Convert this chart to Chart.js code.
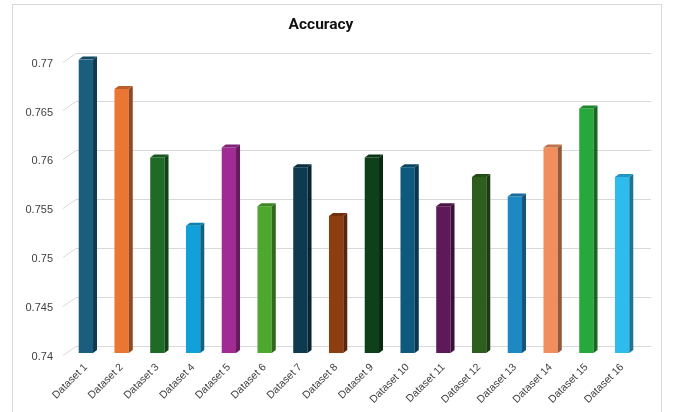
<!DOCTYPE html>
<html>
<head>
<meta charset="utf-8">
<script src="https://cdn.jsdelivr.net/npm/chart.js@4"></script>
<style>
  html, body { margin: 0; padding: 0; background: #fff; }
  #wrap { position: relative; width: 675px; height: 412px; }
  #frame { position: absolute; left: 12px; top: 4px; width: 650px; height: 420px; border: 1px solid #d9d9d9; box-sizing: border-box; pointer-events: none; }
</style>
</head>
<body>
<div id="wrap">
  <canvas id="chart" width="675" height="412"></canvas>
  <div id="frame"></div>
</div>
<script>
const categories = ['Dataset 1', 'Dataset 2', 'Dataset 3', 'Dataset 4', 'Dataset 5', 'Dataset 6', 'Dataset 7', 'Dataset 8',
  'Dataset 9', 'Dataset 10', 'Dataset 11', 'Dataset 12', 'Dataset 13', 'Dataset 14', 'Dataset 15', 'Dataset 16'];
const accuracy = [0.770, 0.767, 0.760, 0.753, 0.761, 0.755, 0.759, 0.754,
  0.760, 0.759, 0.755, 0.758, 0.756, 0.761, 0.765, 0.758];
const barColors = ['#1a5d7d', '#eb7634', '#1d6b26', '#12a0d8', '#a02b93', '#4ea72e', '#0d3a4e', '#8e3d10',
  '#0f401a', '#0e5a7d', '#5e1a58', '#2e5e1e', '#1e88c2', '#f08e5e', '#27a83a', '#2ebcee'];
const yTicks = [0.74, 0.745, 0.75, 0.755, 0.76, 0.765, 0.77];

// darken a hex colour
function shade(hex, f) {
  const n = parseInt(hex.slice(1), 16);
  const r = Math.round(((n >> 16) & 255) * f);
  const g = Math.round(((n >> 8) & 255) * f);
  const b = Math.round((n & 255) * f);
  return `rgb(${r},${g},${b})`;
}

// back wall grid with the little diagonal at the left
const wallGrid = {
  id: 'wallGrid',
  beforeDatasetsDraw(chart) {
    const { ctx, chartArea } = chart;
    const y = chart.scales.y;
    ctx.save();
    ctx.strokeStyle = '#d9d9d9';
    ctx.lineWidth = 1;
    yTicks.forEach(v => {
      const py = Math.round(y.getPixelForValue(v)) + 2.5;
      ctx.beginPath();
      ctx.moveTo(chartArea.left - 5, py);
      ctx.lineTo(chartArea.left + 8, py - 9);
      ctx.lineTo(chartArea.right + 11, py - 9);
      ctx.stroke();
    });
    ctx.restore();
  }
};

// side and top faces of each bar
const bars3d = {
  id: 'bars3d',
  afterDatasetsDraw(chart) {
    const { ctx, chartArea } = chart;
    const dx = 4, dy = 3;
    chart.getDatasetMeta(0).data.forEach((bar, i) => {
      const { x, y, base, width } = bar.getProps(['x', 'y', 'base', 'width'], true);
      const b = Math.min(base, chartArea.bottom);
      const l = x - width / 2, r = x + width / 2;
      ctx.save();
      ctx.fillStyle = shade(barColors[i], 0.62);
      ctx.beginPath();
      ctx.moveTo(r, y);
      ctx.lineTo(r + dx, y - dy);
      ctx.lineTo(r + dx, b - dy);
      ctx.lineTo(r, b);
      ctx.closePath();
      ctx.fill();
      ctx.fillStyle = shade(barColors[i], 0.8);
      ctx.beginPath();
      ctx.moveTo(l, y);
      ctx.lineTo(l + dx, y - dy);
      ctx.lineTo(r + dx, y - dy);
      ctx.lineTo(r, y);
      ctx.closePath();
      ctx.fill();
      ctx.restore();
    });
  }
};

new Chart(document.getElementById('chart'), {
  type: 'bar',
  data: {
    labels: categories,
    datasets: [{
      label: 'Accuracy',
      data: accuracy,
      base: 0.74,
      backgroundColor: barColors,
      borderWidth: 0,
      barPercentage: 0.4,
      categoryPercentage: 1
    }]
  },
  options: {
    responsive: false,
    animation: false,
    layout: { padding: { left: 2, right: 35, top: 0, bottom: 0 } },
    plugins: {
      legend: { display: false },
      tooltip: { enabled: false },
      title: {
        display: true,
        text: 'Accuracy',
        color: '#111',
        font: { family: 'Roboto', size: 15.5, weight: 'bold' },
        padding: { top: 16, bottom: 25 }
      }
    },
    scales: {
      x: {
        grid: { display: false, drawTicks: false },
        border: { display: false },
        ticks: {
          color: '#404040',
          font: { family: 'Liberation Sans', size: 10.5 },
          maxRotation: 45,
          minRotation: 45,
          padding: 8
        },
        afterFit(scale) { scale.height = 59; }
      },
      y: {
        min: 0.74,
        max: 0.77,
        afterBuildTicks(scale) { scale.ticks = yTicks.map(v => ({ value: v })); },
        grid: { display: false, drawTicks: false },
        border: { display: false },
        ticks: {
          color: '#404040',
          font: { family: 'Liberation Sans', size: 11 },
          padding: 15,
          labelOffset: 4,
          callback: v => String(+v.toFixed(3))
        },
        afterFit(scale) { scale.width = 66; }
      }
    }
  },
  plugins: [wallGrid, bars3d]
});
</script>
</body>
</html>
